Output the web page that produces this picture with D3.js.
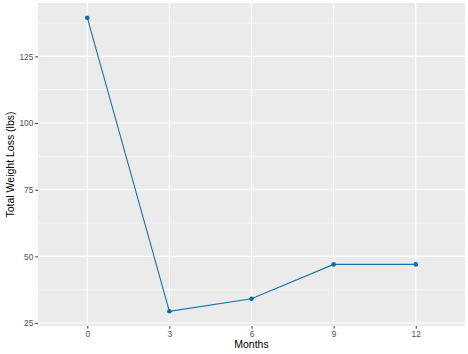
<!DOCTYPE html>
<html>
<head>
<meta charset="utf-8">
<script src="https://cdn.jsdelivr.net/npm/d3@7"></script>
<style>
  body { margin: 0; background: #fff; }
  svg { display: block; font-family: "Liberation Sans", Arial, sans-serif; }
</style>
</head>
<body>
<svg id="chart" width="468" height="354"></svg>
<script>
let width = 468,
    height = 354;

// data
let months = ["0", "3", "6", "9", "12"]
let weightLoss = [139.5, 29.4, 34.1, 47, 47]
let yTicks = [25, 50, 75, 100, 125]
let yMinor = [37.5, 62.5, 87.5, 112.5, 137.5]

let margin = {left: 38, right: 3, top: 3, bottom: 28}
let panelRight = width - margin.right,
    panelBottom = height - margin.bottom

let svg = d3.select("#chart")

// ggplot-like expansion: 5% on continuous y, 0.6 on discrete x
let lo = d3.min(weightLoss), hi = d3.max(weightLoss)
let pad = (hi - lo) * 0.05

let yScale = d3.scaleLinear()
    .domain([lo - pad, hi + pad])
    .range([panelBottom, margin.top])

let xScale = d3.scalePoint()
    .domain(months)
    .range([margin.left, panelRight])
    .padding(0.6)

// panel background
svg.append("rect")
    .attr("x", margin.left)
    .attr("y", margin.top)
    .attr("width", panelRight - margin.left)
    .attr("height", panelBottom - margin.top)
    .attr("fill", "#EBEBEB")

// minor grid
svg.append("g")
    .selectAll("line")
    .data(yMinor)
    .enter()
    .append("line")
    .attr("x1", margin.left)
    .attr("x2", panelRight)
    .attr("y1", d => yScale(d))
    .attr("y2", d => yScale(d))
    .attr("stroke", "#fff")
    .attr("stroke-width", 0.6)

// major grid
svg.append("g")
    .selectAll("line")
    .data(yTicks)
    .enter()
    .append("line")
    .attr("x1", margin.left)
    .attr("x2", panelRight)
    .attr("y1", d => yScale(d))
    .attr("y2", d => yScale(d))
    .attr("stroke", "#fff")
    .attr("stroke-width", 1.1)

svg.append("g")
    .selectAll("line")
    .data(months)
    .enter()
    .append("line")
    .attr("x1", d => xScale(d))
    .attr("x2", d => xScale(d))
    .attr("y1", margin.top)
    .attr("y2", panelBottom)
    .attr("stroke", "#fff")
    .attr("stroke-width", 1.1)

// axes
let yAxis = svg.append("g")
    .attr("transform", "translate(" + margin.left + ",0)")
    .call(d3.axisLeft(yScale).tickValues(yTicks).tickSize(2.7).tickPadding(2))

let xAxis = svg.append("g")
    .attr("transform", "translate(0," + panelBottom + ")")
    .call(d3.axisBottom(xScale).tickSize(2.7).tickPadding(2))

svg.selectAll(".domain").remove()
svg.selectAll(".tick line").attr("stroke", "#333333").attr("stroke-width", 1)
svg.selectAll(".tick text")
    .attr("fill", "#4D4D4D")
    .attr("font-size", "8.3px")
    .attr("font-family", "Liberation Sans, Arial, sans-serif")

// line + points
let valueline = d3.line()
    .x((d, i) => xScale(months[i]))
    .y(d => yScale(d))

svg.append("path")
    .datum(weightLoss)
    .attr("d", valueline)
    .attr("fill", "none")
    .attr("stroke", "#1A72A8")
    .attr("stroke-width", 1.1)

svg.append("g")
    .selectAll("circle")
    .data(weightLoss)
    .enter()
    .append("circle")
    .attr("cx", (d, i) => xScale(months[i]))
    .attr("cy", d => yScale(d))
    .attr("r", 2.3)
    .attr("fill", "#0A6CA8")

// axis titles
svg.append("text")
    .attr("x", (margin.left + panelRight) / 2)
    .attr("y", 348)
    .attr("text-anchor", "middle")
    .attr("font-size", "10.5px")
    .attr("fill", "#000")
    .text("Months")

svg.append("text")
    .attr("transform", "translate(14," + ((margin.top + panelBottom) / 2) + ") rotate(-90)")
    .attr("text-anchor", "middle")
    .attr("font-size", "10.5px")
    .attr("fill", "#000")
    .text("Total Weight Loss (lbs)")
</script>
</body>
</html>
